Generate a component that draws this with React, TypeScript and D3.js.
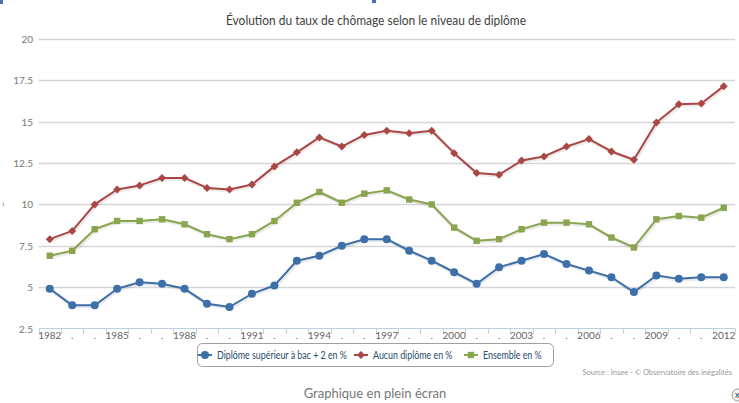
import React from "react";
import * as d3 from "d3";

const years: number[] = [1982,1983,1984,1985,1986,1987,1988,1989,1990,1991,1992,1993,1994,1995,1996,1997,1998,1999,2000,2001,2002,2003,2004,2005,2006,2007,2008,2009,2010,2011,2012];
const bac2: number[] = [4.9,3.9,3.9,4.9,5.3,5.2,4.9,4.0,3.8,4.6,5.1,6.6,6.9,7.5,7.9,7.9,7.2,6.6,5.9,5.2,6.2,6.6,7.0,6.4,6.0,5.6,4.7,5.7,5.5,5.6,5.6];
const aucun: number[] = [7.9,8.4,10.0,10.9,11.15,11.6,11.6,11.0,10.9,11.2,12.3,13.15,14.05,13.5,14.2,14.45,14.3,14.45,13.1,11.9,11.8,12.65,12.9,13.5,13.95,13.2,12.7,14.95,16.05,16.1,17.15];
const ensemble: number[] = [6.9,7.2,8.5,9.0,9.0,9.1,8.8,8.2,7.9,8.2,9.0,10.1,10.75,10.1,10.65,10.85,10.3,10.0,8.6,7.8,7.9,8.5,8.9,8.9,8.8,8.0,7.4,9.1,9.3,9.2,9.8];
const yTicks: number[] = [2.5,5,7.5,10,12.5,15,17.5,20];
const seriesNames: string[] = ["Diplôme supérieur à bac + 2 en %","Aucun diplôme en %","Ensemble en %"];
const seriesColors: string[] = ["#3D6FA8","#AA4643","#89A54E"];
const title = "Évolution du taux de chômage selon le niveau de diplôme";
const source = "Source : Insee - © Observatoire des inégalités";
const footer = "Graphique en plein écran";

const W = 739, H = 403;
const FONT = "Lato, 'Open Sans', sans-serif";

function Marker({ kind, x, y, color }: { kind: number; x: number; y: number; color: string }) {
  if (kind === 0) return <circle cx={x} cy={y} r={4} fill={color} />;
  if (kind === 1) {
    const r = 4;
    return <path d={`M${x},${y - r}L${x + r},${y}L${x},${y + r}L${x - r},${y}Z`} fill={color} />;
  }
  return <rect x={x - 3.2} y={y - 3.2} width={6.4} height={6.4} fill={color} />;
}

export default function App() {
  const x = d3.scaleBand<number>().domain(years).range([38.5, 735]).padding(0);
  const bw = x.bandwidth();
  const cx = (yr: number) => (x(yr) as number) + bw / 2;
  const y = d3.scaleLinear().domain([2.5, 20]).range([328.5, 39]);
  const data = [bac2, aucun, ensemble];
  const line = d3.line<number>().x((_, i) => cx(years[i])).y((v) => y(v));
  const boundaries = d3.range(years.length + 1).map((i) => 38.5 + i * bw);

  const legendItems = [
    { x: 205, tx: 217 },
    { x: 361, tx: 373 },
    { x: 471, tx: 483 },
  ];

  return (
    <div style={{ position: "absolute", left: 0, top: 0 }}>
      <svg width={W} height={H} style={{ display: "block", background: "#fff" }} fontFamily={FONT}>
        <rect x={0} y={0} width={W} height={H} fill="#fff" />
        <rect x={0} y={0} width={3} height={4} fill="#4a6fb0" />
        <rect x={372} y={0} width={4} height={3} fill="#4a6fb0" />
        <text x={2} y={207} fontSize={9} fill="#4a6fb0">›</text>
        <text x={376} y={25} textAnchor="middle" fontSize={13} fill="#3e3e3e" textLength={300} lengthAdjust="spacingAndGlyphs">{title}</text>

        {yTicks.filter((t) => t > 2.5).map((t) => (
          <line key={t} x1={38.5} x2={735} y1={Math.round(y(t)) + 0.5} y2={Math.round(y(t)) + 0.5} stroke="#d6d6d6" strokeWidth={1.3} />
        ))}
        {yTicks.map((t) => (
          <text key={"l" + t} x={33} y={y(t) + 4} textAnchor="end" fontSize={10} fill="#777">{String(t)}</text>
        ))}

        <line x1={38.5} x2={735} y1={328.5} y2={328.5} stroke="#C0D0E0" strokeWidth={1} />
        {boundaries.map((b, i) => (
          <line key={"t" + i} x1={Math.round(b) + 0.5} x2={Math.round(b) + 0.5} y1={328.5} y2={334} stroke="#C0D0E0" strokeWidth={1} />
        ))}
        {years.map((yr, i) => (
          <text key={"x" + yr} x={cx(yr)} y={339} textAnchor="middle" fontSize={10} fill="#666">{i % 3 === 0 ? String(yr) : "."}</text>
        ))}

        {data.map((s, si) => (
          <g key={"s" + si}>
            <path d={line(s) as string} fill="none" stroke="rgba(0,0,0,0.08)" strokeWidth={4} transform="translate(1,1)" />
            <path d={line(s) as string} fill="none" stroke={seriesColors[si]} strokeWidth={2} strokeLinejoin="round" />
            {s.map((v, i) => (
              <Marker key={i} kind={si} x={cx(years[i])} y={y(v)} color={seriesColors[si]} />
            ))}
          </g>
        ))}

        <rect x={197.5} y={343.5} width={356} height={23} rx={5} fill="#fff" stroke="#a0a0a0" strokeWidth={1} />
        {seriesNames.map((n, i) => (
          <g key={"lg" + i}>
            <line x1={legendItems[i].x - 7} x2={legendItems[i].x + 7} y1={355} y2={355} stroke={seriesColors[i]} strokeWidth={2} />
            <Marker kind={i} x={legendItems[i].x} y={355} color={seriesColors[i]} />
            <text transform={`translate(${legendItems[i].tx},359) scale(0.77,1)`} x={0} y={0} fontSize={11.5} fill="#274b6d">{n}</text>
          </g>
        ))}

        <text x={732} y={375} textAnchor="end" fontSize={7.5} fill="#999">{source}</text>
        <text x={375} y={398} textAnchor="middle" fontSize={13} fill="#777">{footer}</text>
        <circle cx={738} cy={395} r={6} fill="#f4f4f4" stroke="#999" />
        <text x={735} y={398} fontSize={9} fill="#333">x</text>
      </svg>
    </div>
  );
}
